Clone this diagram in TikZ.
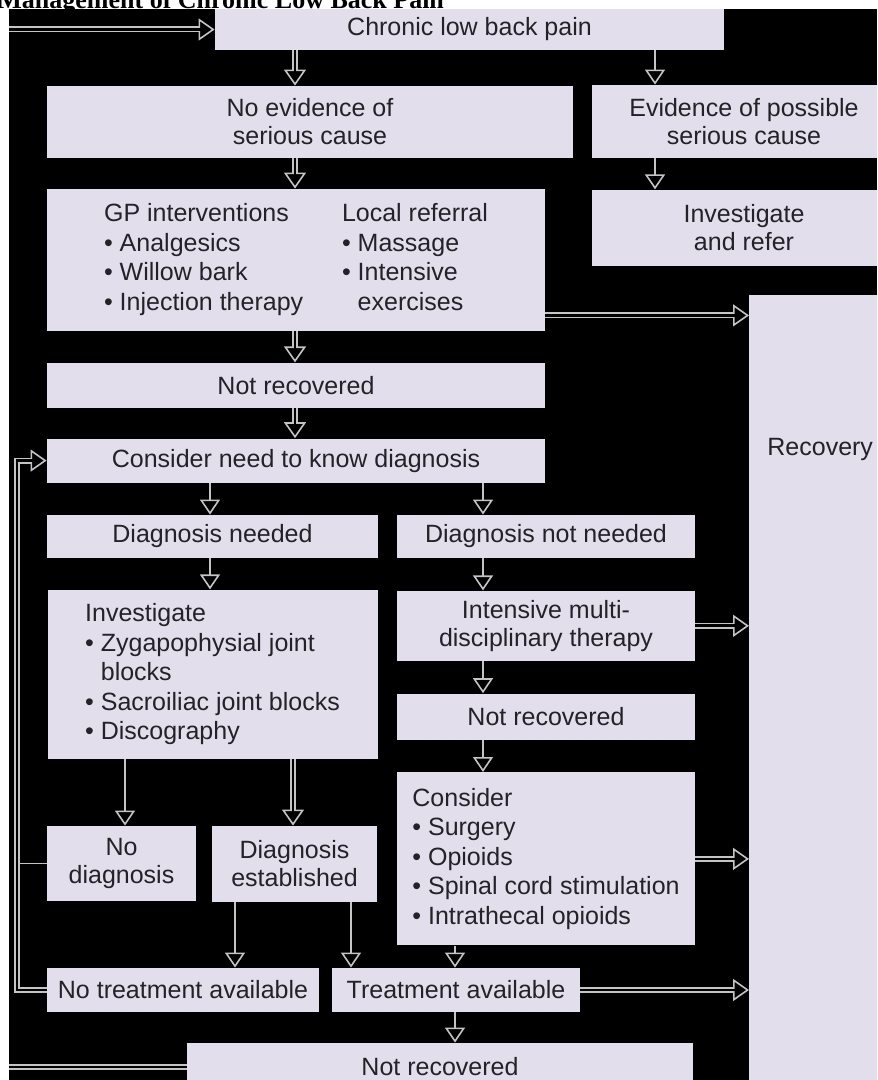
\documentclass[tikz,border=0pt]{standalone}
\usepackage{fontspec}
\setmainfont{Liberation Sans}
\newfontfamily\titlefont{Liberation Serif}
\usetikzlibrary{arrows.meta}
\usepackage{xcolor}
\definecolor{boxfill}{RGB}{226,222,236}
\definecolor{ink}{RGB}{36,34,40}
\definecolor{wire}{RGB}{196,196,198}

\begin{document}
\begin{tikzpicture}[x=0.5pt,y=-0.5pt,
  box/.style={rectangle,fill=boxfill,text=ink,inner sep=0pt,font=\fontsize{12.5}{14}\selectfont},
  listbox/.style={box,align=left,font=\fontsize{12.5}{14.8}\selectfont},
  thinarrow/.style={draw=wire,line width=0.8pt,-{Triangle[open,length=7.5pt,width=10pt,line width=0.8pt]}},
  fatarrow/.style={draw=wire,line width=3pt,-{Triangle[open,length=8pt,width=11pt,line width=0.8pt]},
    postaction={draw=black,line width=1.4pt,-,shorten >=4pt}},
  sideline/.style={draw=wire,line width=0.8pt}]
\useasboundingbox (0,0) rectangle (877,1080);
\node [anchor=base west,inner sep=0pt,font=\titlefont\bfseries\fontsize{13}{15}\selectfont,at={(-3,8.5)}] (title) {Management of Chronic Low Back Pain};

\begin{scope}
\clip (9,9) rectangle (877,1080);
\fill [black] (9,9) rectangle (877,1080);

\node [box,minimum width=254.5pt,minimum height=20.5pt,at={(469.5,29.5)}] (chronic) {Chronic low back pain};
\node [box,align=center,minimum width=263pt,minimum height=36pt,at={(310,122)}] (noevid) {No evidence of\\serious cause};
\node [box,align=center,minimum width=152pt,minimum height=36.5pt,at={(744,121.5)}] (evid) {Evidence of possible\\serious cause};
\node [box,align=center,minimum width=152pt,minimum height=38pt,below=15.5pt,at=(evid.south)] (invref) {Investigate\\and refer};

\node [box,minimum width=249pt,minimum height=71pt,at={(296,260)},font=\fontsize{12.5}{14.8}\selectfont] (gp) {\begin{tabular}{@{}p{119pt}@{}l@{}}
GP interventions & Local referral\\
\textbullet\ Analgesics & \textbullet\ Massage\\
\textbullet\ Willow bark & \textbullet\ Intensive\\
\textbullet\ Injection therapy & \phantom{\textbullet\ }exercises
\end{tabular}};
\node [box,minimum width=249pt,minimum height=22.5pt,below=15.5pt,at=(gp.south)] (notrec1) {Not recovered};
\node [box,minimum width=249pt,minimum height=22pt,below=15pt,at=(notrec1.south)] (needdx) {Consider need to know diagnosis};

\node [box,anchor=north west,inner xsep=9pt,text height=80pt,text depth=322pt,at={(749,295)}] (recovery) {Recovery};

\node [box,minimum width=165.5pt,minimum height=21.5pt,at={(212.5,536.5)}] (dxneed) {Diagnosis needed};
\node [box,minimum width=149pt,minimum height=21.5pt,at={(546,536.5)}] (dxnotneed) {Diagnosis not needed};
\node [listbox,minimum width=165pt,minimum height=84.5pt,below=15.5pt,at=(dxneed.south)] (invest) {Investigate\\
\textbullet\ Zygapophysial joint\\
\phantom{\textbullet\ }blocks\\
\textbullet\ Sacroiliac joint blocks\\
\textbullet\ Discography};
\node [box,align=center,minimum width=149pt,minimum height=35pt,below=16pt,at=(dxnotneed.south)] (intensive) {Intensive multi-\\disciplinary therapy};
\node [box,minimum width=149pt,minimum height=23pt,below=16pt,at=(intensive.south)] (notrec2) {Not recovered};
\node [listbox,minimum width=149pt,minimum height=86.5pt,below=16pt,at=(notrec2.south)] (consider) {Consider\\
\textbullet\ Surgery\\
\textbullet\ Opioids\\
\textbullet\ Spinal cord stimulation\\
\textbullet\ Intrathecal opioids};

\node [box,align=center,minimum width=74.5pt,minimum height=37.5pt,at={(121.5,863.5)}] (nodx) {No\\diagnosis};
\node [box,align=center,minimum width=82.5pt,minimum height=38pt,at={(294.5,864)}] (dxest) {Diagnosis\\established};
\node [box,minimum width=136pt,minimum height=22pt,at={(183,990)}] (notreat) {No treatment available};
\node [box,minimum width=124pt,minimum height=22pt,at={(456,990)}] (treat) {Treatment available};
\node [box,minimum width=253pt,minimum height=24pt,at={(440,1067)}] (notrec3) {Not recovered};

% columns the arrows run down
\coordinate (colmain) at (295,0);
\coordinate (colright) at (655,0);
\coordinate (colleft) at (210,0);
\coordinate (colmid) at (483,0);
\coordinate (colnodx) at (125,0);
\coordinate (coldxest) at (293,0);
\coordinate (colnotreat) at (235,0);
\coordinate (coltreat) at (351,0);
\coordinate (colcons) at (455,0);
\coordinate (loopout) at (4,0);
\coordinate (loopin) at (17,0);
\coordinate (gpout) at ([yshift=8pt]gp.south east);

\draw [fatarrow] (chronic.south -| colmain) -- (noevid.north -| colmain);
\draw [thinarrow] (chronic.south -| colright) -- (evid.north -| colright);
\draw [fatarrow] (noevid.south -| colmain) -- (gp.north -| colmain);
\draw [thinarrow] (evid.south -| colright) -- (invref.north -| colright);
\draw [fatarrow] (gpout) -- (gpout -| recovery.west);
\draw [fatarrow] (gp.south -| colmain) -- (notrec1.north -| colmain);
\draw [fatarrow] (notrec1.south -| colmain) -- (needdx.north -| colmain);
\draw [thinarrow] (needdx.south -| colleft) -- (dxneed.north -| colleft);
\draw [thinarrow] (needdx.south -| colmid) -- (dxnotneed.north -| colmid);
\draw [thinarrow] (dxneed.south -| colleft) -- (invest.north -| colleft);
\draw [thinarrow] (dxnotneed.south -| colmid) -- (intensive.north -| colmid);
\draw [fatarrow] (intensive.east) -- (intensive.east -| recovery.west);
\draw [thinarrow] (intensive.south -| colmid) -- (notrec2.north -| colmid);
\draw [thinarrow] (notrec2.south -| colmid) -- (consider.north -| colmid);
\draw [fatarrow] (consider.east) -- (consider.east -| recovery.west);
\draw [thinarrow] (invest.south -| colnodx) -- (nodx.north -| colnodx);
\draw [fatarrow] (invest.south -| coldxest) -- (dxest.north -| coldxest);
\draw [thinarrow] (dxest.south -| colnotreat) -- (notreat.north -| colnotreat);
\draw [thinarrow] (dxest.south -| coltreat) -- (treat.north -| coltreat);
\draw [thinarrow] (consider.south -| colcons) -- (treat.north -| colcons);
\draw [fatarrow] (treat.east) -- (treat.east -| recovery.west);
\draw [thinarrow] (treat.south -| colcons) -- (notrec3.north -| colcons);

% loops back
\draw [sideline] (nodx.west) -- (nodx.west -| loopin);
\draw [fatarrow] (notreat.west) -- (notreat.west -| loopin) |- (needdx.west);
\draw [fatarrow] (notrec3.west) -- (notrec3.west -| loopout) |- (chronic.west);
\end{scope}
\end{tikzpicture}
\end{document}
